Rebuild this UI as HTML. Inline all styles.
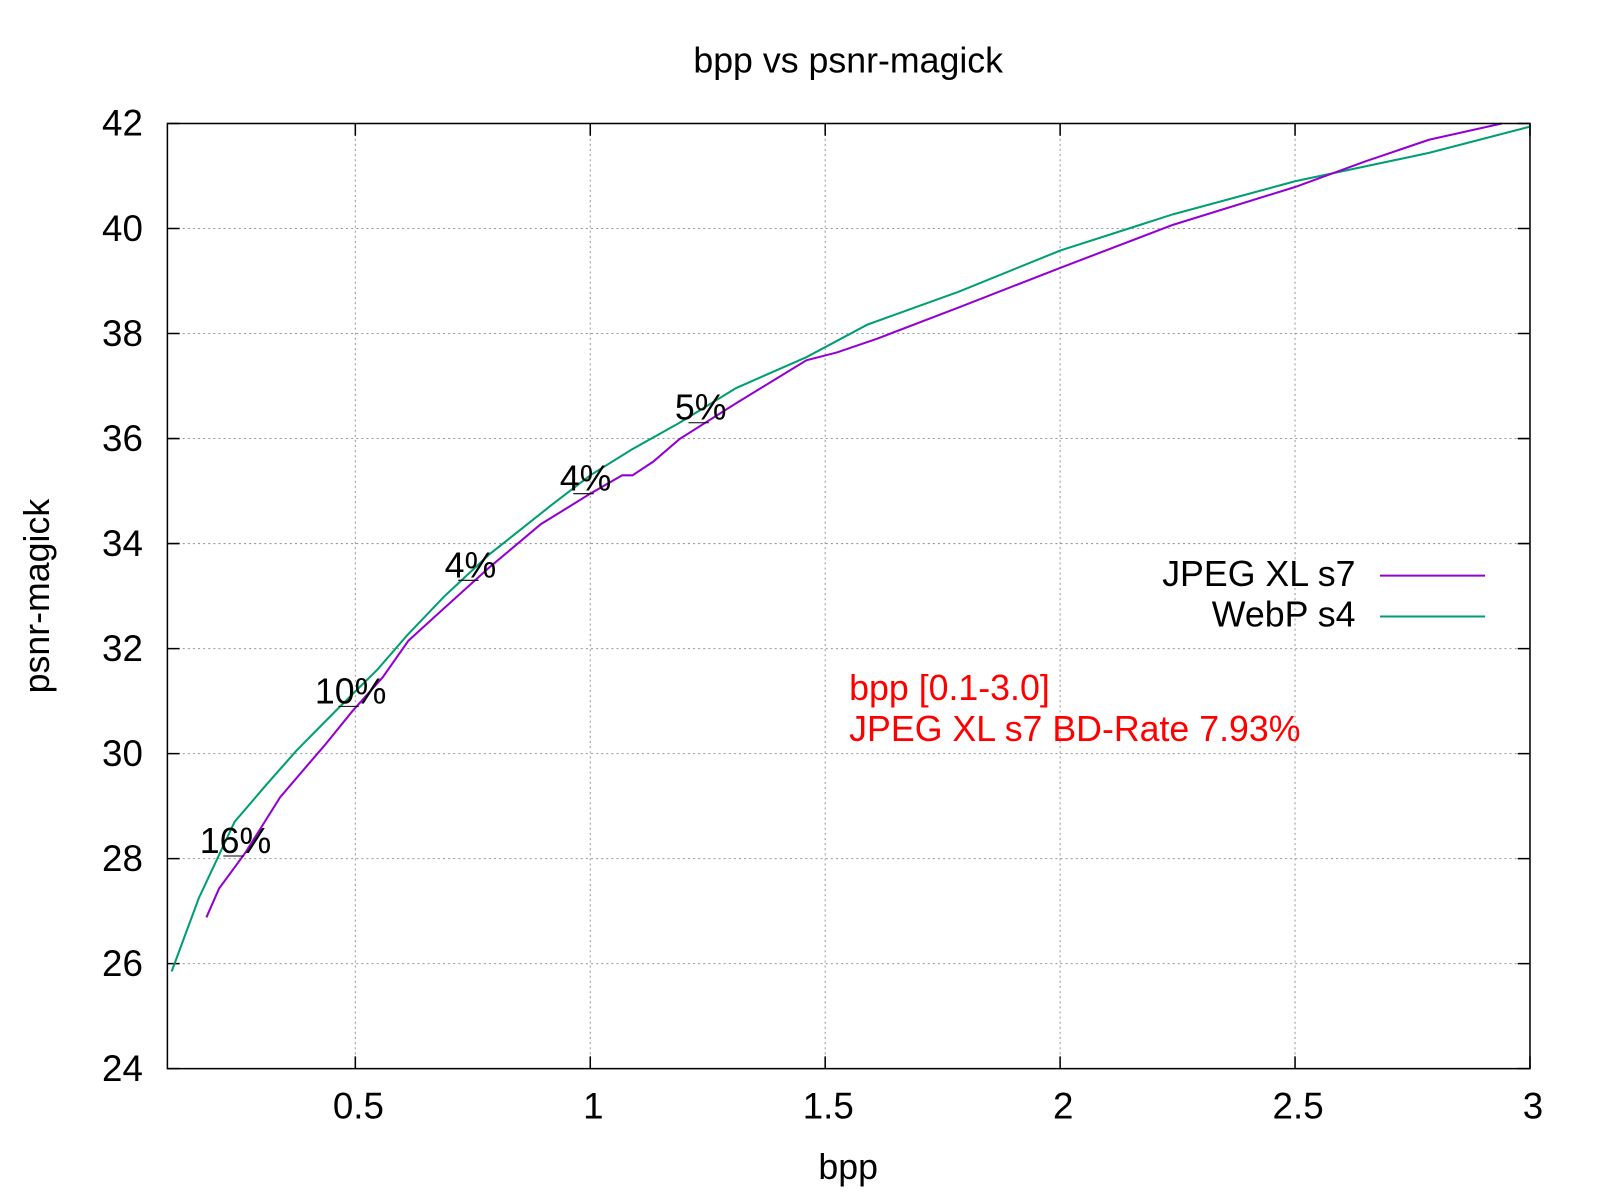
<!DOCTYPE html>
<html><head><meta charset="utf-8"><style>html,body{margin:0;padding:0;background:#fff}svg{display:block}text{font-family:"Liberation Sans",sans-serif}</style></head>
<body>
<svg id="chart" width="1600" height="1200" viewBox="0 0 1567.6 1175.7" preserveAspectRatio="none" xmlns="http://www.w3.org/2000/svg">
<rect width="1567.6" height="1175.7" fill="#fff"/>
<text x="831" y="71" font-size="35" text-anchor="middle">bpp vs psnr-magick</text>
<text x="831" y="1155" font-size="35" text-anchor="middle">bpp</text>
<text transform="translate(48,584) rotate(-90)" font-size="35" text-anchor="middle">psnr-magick</text>
<g id="grid"></g><g id="series"></g><g id="annos"></g>
<rect x="164" y="121" width="1335" height="926" fill="none" stroke="#000" stroke-width="1.5"/>
<g>
<text x="1328" y="574" font-size="35" text-anchor="end">JPEG XL s7</text>
<line x1="1352" y1="564" x2="1455" y2="564" stroke="#9400d3" stroke-width="2"/>
<text x="1328" y="614" font-size="35" text-anchor="end">WebP s4</text>
<line x1="1352" y1="604" x2="1455" y2="604" stroke="#009e73" stroke-width="2"/>
</g>
<text x="832" y="686" font-size="35" fill="#ff0000">bpp [0.1-3.0]</text>
<text x="832" y="726" font-size="35" fill="#ff0000">JPEG XL s7 BD-Rate 7.93%</text>
</svg>
<script>
const xTicks=[0.5,1,1.5,2,2.5,3];
const yTicks=[24,26,28,30,32,34,36,38,40,42];
const webpX=[0.109,0.167,0.243,0.31,0.374,0.46,0.547,0.61,0.69,0.786,0.917,1.0,1.09,1.19,1.31,1.46,1.59,1.785,2.0,2.24,2.5,2.785,3.0];
const webpY=[25.85,27.25,28.7,29.4,30.05,30.83,31.6,32.25,33.0,33.8,34.73,35.3,35.8,36.3,36.96,37.55,38.17,38.8,39.58,40.27,40.9,41.44,41.94];
const jxlX=[0.183,0.21,0.265,0.34,0.406,0.434,0.493,0.558,0.613,0.678,0.787,0.895,1.0,1.068,1.09,1.134,1.19,1.31,1.46,1.525,1.61,1.785,2.0,2.24,2.5,2.65,2.785,2.94];
const jxlY=[26.88,27.43,28.1,29.17,29.86,30.15,30.8,31.45,32.15,32.68,33.56,34.37,34.95,35.3,35.3,35.56,35.99,36.67,37.49,37.64,37.9,38.5,39.25,40.07,40.79,41.28,41.69,42.0];
const annoLabels=["16%","10%","4%","4%","5%"];
const annoX=[0.245,0.49,0.745,0.99,1.235];
const annoY=[28.05,30.9,33.3,34.95,36.3];
const X0=0.1,X1=3,Y0=24,Y1=42,L=164,R=1499,T=121,B=1047;
const sx=v=>L+(v-X0)/(X1-X0)*(R-L);
const sy=v=>B-(v-Y0)/(Y1-Y0)*(B-T);
const NS="http://www.w3.org/2000/svg";
function mk(tag,attrs,parent){const e=document.createElementNS(NS,tag);for(const k in attrs)e.setAttribute(k,attrs[k]);parent.appendChild(e);return e;}
const grid=document.getElementById('grid');
xTicks.forEach(t=>{const x=sx(t);
 if(t<X1){const g=mk('line',{x1:x,y1:T,x2:x,y2:B,stroke:'#999','stroke-width':1,'stroke-dasharray':'2,3'},grid);
 
 }
 const tk=mk('path',{d:`M${x},${B}v-12M${x},${T}v12`,stroke:'#000','stroke-width':1.5},grid);
 
 
 const lb=mk('text',{x:x+3,y:B+49,'font-size':36,'text-anchor':'middle'},grid);lb.textContent=t;
 
 
});
yTicks.forEach(t=>{const y=sy(t);
 if(t>Y0&&t<Y1){const g=mk('line',{x1:L,y1:y,x2:R,y2:y,stroke:'#999','stroke-width':1,'stroke-dasharray':'2,3'},grid);
 
 }
 const tk=mk('path',{d:`M${L},${y}h12M${R},${y}h-12`,stroke:'#000','stroke-width':1.5},grid);
 
 
 const lb=mk('text',{x:140,y:y+12,'font-size':36,'text-anchor':'end'},grid);lb.textContent=t;
 
 
});
const ser=document.getElementById('series');
const w=mk('polyline',{points:webpX.map((x,i)=>sx(x)+','+sy(webpY[i])).join(' '),fill:'none',stroke:'#009e73','stroke-width':2},ser);


const j=mk('polyline',{points:jxlX.map((x,i)=>sx(x)+','+sy(jxlY[i])).join(' '),fill:'none',stroke:'#9400d3','stroke-width':2},ser);


const an=document.getElementById('annos');
annoLabels.forEach((s,i)=>{const x=sx(annoX[i]),y=sy(annoY[i]);
 const ln=mk('line',{x1:x-12,y1:y,x2:x+8,y2:y,stroke:'#000','stroke-width':1},an);
 
 
 const t=mk('text',{x:x,y:y-3,'font-size':35,'text-anchor':'middle'},an);t.textContent=s;
 
 
});
</script>
</body></html>
